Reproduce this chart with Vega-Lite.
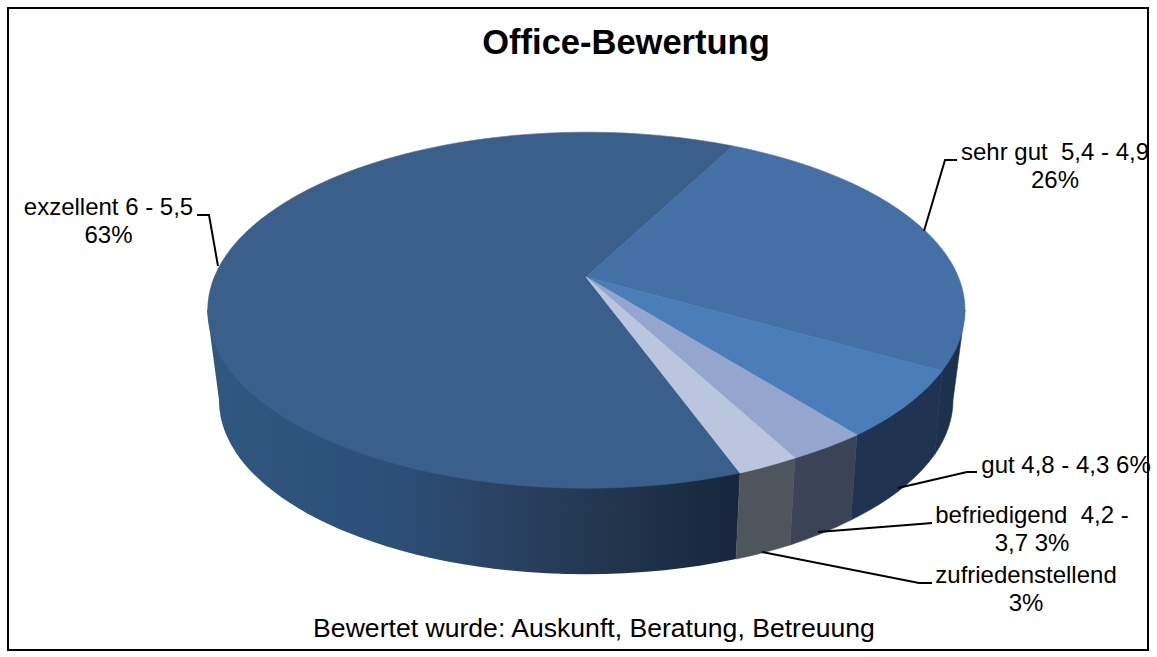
{
"$schema":"https://vega.github.io/schema/vega-lite/v6.json",
"width":1140,"height":642,
"padding":{"left":8,"top":8,"right":9,"bottom":7},
"autosize":"none",
"background":"white",
"config":{"view":{"stroke":null},"font":"Liberation Sans"},
"title":{"text":"Office-Bewertung","font":"Liberation Sans","fontSize":34.5,"fontWeight":"bold","color":"#000000","anchor":"middle","dx":48,"dy":84,"offset":0,"baseline":"alphabetic"},
"data":{"values":[
{"slice":"exzellent 6 - 5,5","share":63,"label":"exzellent 6 - 5,5\n63%"},
{"slice":"sehr gut  5,4 - 4,9","share":26,"label":"sehr gut \u00a05,4 - 4,9\n26%"},
{"slice":"gut 4,8 - 4,3","share":6,"label":"gut 4,8 - 4,3 6%"},
{"slice":"befriedigend  4,2 - 3,7","share":3,"label":"befriedigend \u00a04,2 -\n3,7 3%"},
{"slice":"zufriedenstellend","share":3,"label":"zufriedenstellend\n3%"}
]},
"resolve":{"scale":{"shape":"independent","fill":"independent","stroke":"independent"}},
"layer":[
{"transform":[{"filter":"datum.share === 63"}],
 "mark":{"type":"point","filled":false,"size":4,"opacity":1,"stroke":"#000000","strokeWidth":2,"shape":"M-570,-321 H570 V321 H-570 Z"}},
{"transform":[{"filter":"datum.share === 63"}],
 "mark":{"type":"point","filled":true,"size":4,"opacity":1,"strokeWidth":0,
  "fill":{"gradient":"linear","x1":0,"y1":0,"x2":1,"y2":0,"stops":[{"offset":0,"color":"#30587f"},{"offset":0.35,"color":"#2c4f78"},{"offset":0.55,"color":"#2a4263"},{"offset":0.75,"color":"#22364f"},{"offset":1,"color":"#17263a"}]},
  "shape":"M-371,-19 L-359,71 A367,174 0 0 0 158,230 L162,144 Z"}},
{"transform":[{"filter":"datum.share !== 63"}],
 "mark":{"type":"point","filled":true,"size":4,"opacity":1,"strokeWidth":0.6},
 "encoding":{
  "shape":{"field":"slice","type":"nominal","legend":null,"scale":{
   "domain":["sehr gut  5,4 - 4,9","gut 4,8 - 4,3","befriedigend  4,2 - 3,7","zufriedenstellend"],
   "range":["M364,42 L357,125 A367,174 0 0 0 375,71 L387,-19 Z",
            "M279,106 L273,191 A367,174 0 0 0 357,125 L364,42 Z",
            "M217,129 L212,216 A367,174 0 0 0 273,191 L279,106 Z",
            "M162,144 L158,230 A367,174 0 0 0 212,216 L217,129 Z"]}},
  "fill":{"field":"slice","type":"nominal","legend":null,"scale":{
   "domain":["sehr gut  5,4 - 4,9","gut 4,8 - 4,3","befriedigend  4,2 - 3,7","zufriedenstellend"],
   "range":["#1d304c","#1f3350","#3b4356","#4e555d"]}},
  "stroke":{"field":"slice","type":"nominal","legend":null,"scale":{
   "domain":["sehr gut  5,4 - 4,9","gut 4,8 - 4,3","befriedigend  4,2 - 3,7","zufriedenstellend"],
   "range":["#1d304c","#1f3350","#3b4356","#4e555d"]}}}},
{"mark":{"type":"point","filled":true,"size":4,"opacity":1,"strokeWidth":0.6},
 "encoding":{
  "shape":{"field":"slice","type":"nominal","legend":null,"scale":{
   "domain":["exzellent 6 - 5,5","sehr gut  5,4 - 4,9","gut 4,8 - 4,3","befriedigend  4,2 - 3,7","zufriedenstellend"],
   "range":["M8,-52 L162,144 A379,178 0 1 1 155,-183 Z",
            "M8,-52 L155,-183 A379,178 0 0 1 364,42 Z",
            "M8,-52 L364,42 A379,178 0 0 1 279,106 Z",
            "M8,-52 L279,106 A379,178 0 0 1 217,129 Z",
            "M8,-52 L217,129 A379,178 0 0 1 162,144 Z"]}},
  "fill":{"field":"slice","type":"nominal","legend":null,"scale":{
   "domain":["exzellent 6 - 5,5","sehr gut  5,4 - 4,9","gut 4,8 - 4,3","befriedigend  4,2 - 3,7","zufriedenstellend"],
   "range":["#3b5f8b","#4570a5","#4b7eb9","#94a6ce","#b9c6dd"]}},
  "stroke":{"field":"slice","type":"nominal","legend":null,"scale":{
   "domain":["exzellent 6 - 5,5","sehr gut  5,4 - 4,9","gut 4,8 - 4,3","befriedigend  4,2 - 3,7","zufriedenstellend"],
   "range":["#3b5f8b","#4570a5","#4b7eb9","#94a6ce","#b9c6dd"]}}}},
{"mark":{"type":"point","filled":false,"size":4,"opacity":1,"stroke":"#000000","strokeWidth":2},
 "encoding":{
  "shape":{"field":"slice","type":"nominal","legend":null,"scale":{
   "domain":["exzellent 6 - 5,5","sehr gut  5,4 - 4,9","gut 4,8 - 4,3","befriedigend  4,2 - 3,7","zufriedenstellend"],
   "range":["M-381,-114 L-369,-114 L-360,-63",
            "M379,-169 L367,-169 L346,-98",
            "M399,143 L389,143 L320,159",
            "M354,194 L342,195 L240,203",
            "M354,254 L341,254 L184,223"]}}}},
{"transform":[{"filter":"datum.share === 63"}],
 "mark":{"type":"text","font":"Liberation Sans","fontSize":24,"align":"center","baseline":"alphabetic","lineBreak":"\n","lineHeight":28,"color":"#000000","dx":-469.5,"dy":-114},
 "encoding":{"text":{"field":"label","type":"nominal"}}},
{"transform":[{"filter":"datum.share === 26"}],
 "mark":{"type":"text","font":"Liberation Sans","fontSize":24,"align":"center","baseline":"alphabetic","lineBreak":"\n","lineHeight":28,"color":"#000000","dx":477,"dy":-169},
 "encoding":{"text":{"field":"label","type":"nominal"}}},
{"transform":[{"filter":"datum.share === 6"}],
 "mark":{"type":"text","font":"Liberation Sans","fontSize":24,"align":"center","baseline":"alphabetic","lineBreak":"\n","lineHeight":28,"color":"#000000","dx":488,"dy":144},
 "encoding":{"text":{"field":"label","type":"nominal"}}},
{"transform":[{"filter":"datum.slice === 'befriedigend  4,2 - 3,7'"}],
 "mark":{"type":"text","font":"Liberation Sans","fontSize":24,"align":"center","baseline":"alphabetic","lineBreak":"\n","lineHeight":28,"color":"#000000","dx":454,"dy":194},
 "encoding":{"text":{"field":"label","type":"nominal"}}},
{"transform":[{"filter":"datum.slice === 'zufriedenstellend'"}],
 "mark":{"type":"text","font":"Liberation Sans","fontSize":24,"align":"center","baseline":"alphabetic","lineBreak":"\n","lineHeight":28,"color":"#000000","dx":448,"dy":254},
 "encoding":{"text":{"field":"label","type":"nominal"}}},
{"data":{"values":[{"note":"Bewertet wurde: Auskunft, Beratung, Betreuung"}]},
 "mark":{"type":"text","font":"Liberation Sans","fontSize":26.6,"align":"center","baseline":"alphabetic","color":"#000000","dx":16,"dy":308},
 "encoding":{"text":{"field":"note","type":"nominal"}}}
]
}
